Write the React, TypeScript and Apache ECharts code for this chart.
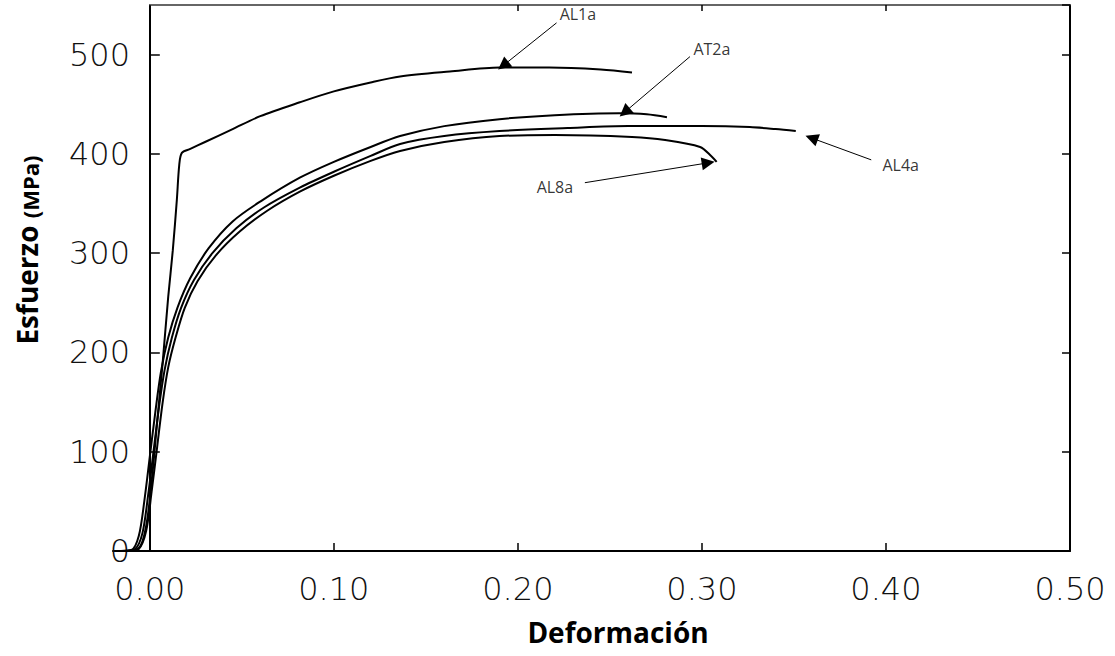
import React, { useEffect, useRef } from "react";
import * as echarts from "echarts";

// Strain (x) / stress in MPa (y) pairs
const AL1a: number[][] = [
  [-0.016, 0], [-0.006, 3], [-0.002, 25], [0.001, 70], [0.004, 130], [0.007, 190],
  [0.01, 256], [0.0125, 303], [0.0147, 354], [0.016, 389], [0.0174, 401], [0.022, 405],
  [0.03, 412], [0.045, 425], [0.06, 438], [0.0815, 452], [0.1, 463], [0.12, 472],
  [0.136, 478], [0.163, 483], [0.19, 487], [0.217, 487], [0.245, 485], [0.262, 482],
];
const AT2a: number[][] = [
  [-0.018, 0], [-0.01, 1], [-0.006, 15], [-0.003, 50], [0, 95], [0.003, 140], [0.006, 180],
  [0.01, 215], [0.015, 245], [0.022, 275], [0.032, 305], [0.045, 332], [0.06, 352],
  [0.0815, 376], [0.1, 392], [0.12, 407], [0.136, 418], [0.16, 428], [0.19, 435],
  [0.22, 439], [0.255, 441], [0.27, 440], [0.281, 437],
];
const AL4a: number[][] = [
  [-0.015, 0], [-0.008, 2], [-0.004, 18], [-0.001, 55], [0.002, 100], [0.005, 145],
  [0.008, 182], [0.012, 215], [0.017, 245], [0.024, 273], [0.034, 300], [0.047, 325],
  [0.062, 346], [0.0815, 366], [0.1, 382], [0.12, 398], [0.136, 410], [0.16, 418],
  [0.19, 423], [0.227, 426], [0.26, 428], [0.3, 428], [0.326, 427], [0.34, 425], [0.351, 423],
];
const AL8a: number[][] = [
  [-0.012, 0], [-0.006, 2], [-0.002, 20], [0.001, 60], [0.004, 105], [0.007, 150],
  [0.01, 185], [0.014, 215], [0.019, 245], [0.026, 272], [0.036, 298], [0.049, 322],
  [0.064, 343], [0.0815, 362], [0.1, 378], [0.12, 393], [0.136, 403], [0.16, 412],
  [0.19, 418], [0.22, 419], [0.262, 417], [0.28, 414], [0.299, 407], [0.305, 398], [0.308, 392],
];

const curveNames = ["AL1a", "AT2a", "AL4a", "AL8a"];
const curves = [AL1a, AT2a, AL4a, AL8a];

// Annotations: label position, arrow start, arrow tip (data coordinates)
const annLabels: number[][] = [[0.2326, 541], [0.3054, 506], [0.408, 389], [0.2201, 367]];
const annStarts: number[][] = [[0.221, 532], [0.2935, 498], [0.392, 394], [0.2364, 371]];
const annTips: number[][] = [[0.192, 489], [0.258, 442], [0.3596, 416], [0.3034, 391]];

const xTicks = [0, 0.1, 0.2, 0.3, 0.4, 0.5];

export default function App() {
  const ref = useRef<HTMLDivElement>(null);
  useEffect(() => {
    const chart = echarts.init(ref.current!, null, { renderer: "svg" });
    const labelFont = {
      color: "#111",
      fontFamily: "DejaVu Sans",
      fontWeight: 200 as any,
      fontSize: 32,
    };
    const tickStyle = { color: "#000", width: 1.5 };
    const option: any = {
      animation: false,
      backgroundColor: "#fff",
      grid: [
        { left: 113, right: 45, top: 5, bottom: 105 },
        { left: 150, right: 45, top: 5, bottom: 105 },
      ],
      xAxis: [
        {
          type: "value",
          gridIndex: 0,
          min: -0.02,
          max: 0.5,
          axisLine: { onZero: false, lineStyle: { color: "#000", width: 2 } },
          axisTick: { show: true, inside: true, length: 8, customValues: xTicks, lineStyle: tickStyle },
          axisLabel: {
            ...labelFont,
            margin: 22,
            customValues: xTicks,
            formatter: (v: number) => v.toFixed(2),
          },
          splitLine: { show: false },
        },
        {
          type: "value",
          gridIndex: 1,
          position: "top",
          min: 0,
          max: 0.5,
          interval: 0.1,
          axisLine: { show: true, onZero: false, lineStyle: { color: "#666", width: 2 } },
          axisTick: { show: true, inside: true, length: 6, lineStyle: tickStyle },
          axisLabel: { show: false },
          splitLine: { show: false },
        },
      ],
      yAxis: [
        {
          type: "value",
          gridIndex: 0,
          min: 0,
          max: 550,
          interval: 100,
          axisLine: { show: true, onZero: true, lineStyle: { color: "#000", width: 2 } },
          axisTick: { show: true, inside: true, length: 10, lineStyle: tickStyle },
          axisLabel: { ...labelFont, margin: -17, showMaxLabel: false },
          splitLine: { show: false },
        },
        {
          type: "value",
          gridIndex: 1,
          position: "right",
          min: 0,
          max: 550,
          interval: 100,
          axisLine: { show: true, onZero: false, lineStyle: { color: "#000", width: 2 } },
          axisTick: { show: true, inside: true, length: 8, lineStyle: tickStyle },
          axisLabel: { show: false },
          splitLine: { show: false },
        },
      ],
      series: [
        ...curves.map((d, i) => ({
          name: curveNames[i],
          type: "line",
          xAxisIndex: 0,
          yAxisIndex: 0,
          data: d,
          showSymbol: false,
          symbol: "none",
          smooth: 0.3,
          lineStyle: { color: "#000", width: 2 },
        })),
        {
          type: "scatter",
          xAxisIndex: 0,
          yAxisIndex: 0,
          symbolSize: 1,
          clip: false,
          itemStyle: { color: "rgba(0,0,0,0)" },
          data: annLabels.map((p, i) => ({ name: curveNames[i], value: p })),
          label: {
            show: true,
            position: "inside",
            formatter: "{b}",
            color: "#000",
            fontFamily: "Open Sans",
            fontSize: 16,
          },
          markLine: {
            silent: true,
            symbol: ["none", "triangle"],
            symbolSize: 13,
            label: { show: false },
            lineStyle: { color: "#000", width: 1, type: "solid" },
            data: annStarts.map((s, i) => [{ coord: s }, { coord: annTips[i] }]),
          },
        },
      ],
      graphic: [
        {
          type: "text",
          x: 618,
          y: 632,
          style: {
            text: "Deformación",
            align: "center",
            verticalAlign: "middle",
            font: 'bold 28px "Open Sans"',
            fill: "#000",
          },
        },
        {
          type: "text",
          x: 24,
          y: 250,
          rotation: Math.PI / 2,
          style: {
            text: "{a|Esfuerzo }{b|(MPa)}",
            align: "center",
            verticalAlign: "middle",
            rich: {
              a: { font: 'bold 28px "Open Sans"', fill: "#000", lineHeight: 34, verticalAlign: "bottom" },
              b: { font: 'bold 22px "Open Sans"', fill: "#000", lineHeight: 34, verticalAlign: "bottom" },
            },
          },
        },
      ],
    };
    chart.setOption(option);
    return () => chart.dispose();
  }, []);
  return (
    <div
      ref={ref}
      style={{ position: "fixed", left: 0, top: 0, width: 1115, height: 656, background: "#fff" }}
    />
  );
}
